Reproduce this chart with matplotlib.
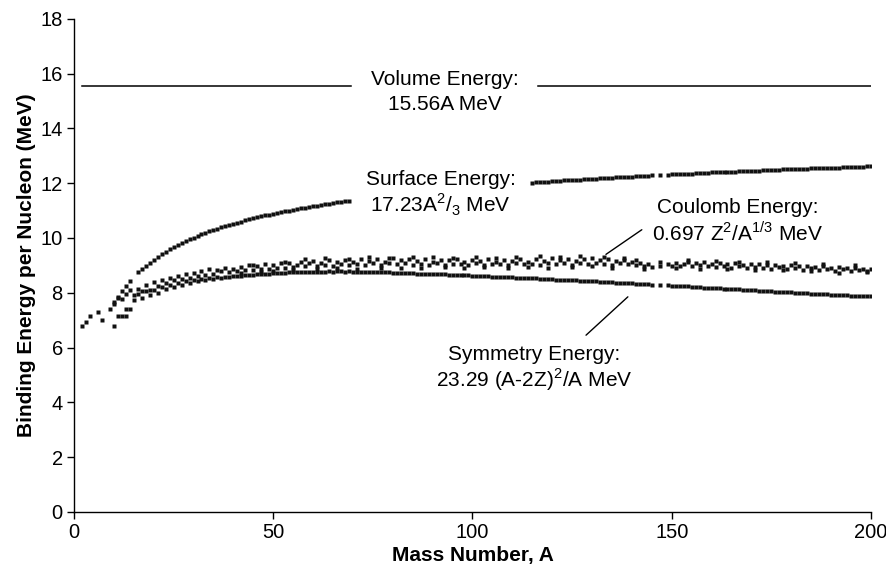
import matplotlib
matplotlib.use("Agg")
import matplotlib.pyplot as plt

plt.rcParams['font.family'] = ['Liberation Sans', 'DejaVu Sans']
plt.rcParams['mathtext.fontset'] = 'custom'
plt.rcParams['mathtext.rm'] = 'Liberation Sans'

# volume term: flat line, broken around its label
volume_a = [[2, 69.5], [116.5, 200]]
volume_y = 15.56

# light nuclei (scattered points at the left)
light_a = [2, 3, 4, 6, 7, 9, 10, 10, 11, 12, 13, 13, 14, 11, 12, 13, 14]
light_y = [6.78, 6.94, 7.14, 7.30, 7.00, 7.42, 6.78, 7.58, 7.14, 7.14,
           7.14, 7.42, 7.42, 7.84, 7.78, 7.96, 8.09]

# after surface term
surface_a = list(range(10, 15)) + list(range(16, 70)) + list(range(115, 146)) + [147] + list(range(149, 201))
surface_y = [
    7.66, 7.81, 8.05, 8.25, 8.43,                                        # 10-14
    8.74, 8.86, 8.99, 9.10,                                              # 16-19
    9.21, 9.31, 9.41, 9.50, 9.59, 9.67, 9.74, 9.82, 9.89, 9.95,          # 20-29
    10.01, 10.07, 10.13, 10.19, 10.24, 10.29, 10.34, 10.39, 10.43, 10.48,  # 30-39
    10.52, 10.56, 10.60, 10.64, 10.68, 10.72, 10.75, 10.79, 10.82, 10.85,  # 40-49
    10.88, 10.91, 10.94, 10.97, 11.00, 11.03, 11.06, 11.08, 11.11, 11.13,  # 50-59
    11.16, 11.18, 11.21, 11.23, 11.25, 11.27, 11.30, 11.32, 11.34, 11.36,  # 60-69
    12.02, 12.03, 12.04, 12.05, 12.06,                                   # 115-119
    12.07, 12.08, 12.09, 12.10, 12.10, 12.11, 12.12, 12.13, 12.14, 12.15,  # 120-129
    12.16, 12.17, 12.18, 12.18, 12.19, 12.20, 12.21, 12.22, 12.23, 12.23,  # 130-139
    12.24, 12.25, 12.26, 12.26, 12.27, 12.28, 12.29, 12.31,              # 140-145, 147, 149
    12.32, 12.32, 12.33, 12.34, 12.35, 12.35, 12.36, 12.37, 12.37, 12.38,  # 150-159
    12.39, 12.39, 12.40, 12.41, 12.41, 12.42, 12.42, 12.43, 12.44, 12.44,  # 160-169
    12.45, 12.46, 12.46, 12.47, 12.47, 12.48, 12.49, 12.49, 12.50, 12.50,  # 170-179
    12.51, 12.51, 12.52, 12.52, 12.53, 12.54, 12.54, 12.55, 12.55, 12.56,  # 180-189
    12.56, 12.57, 12.57, 12.58, 12.58, 12.59, 12.59, 12.60, 12.60, 12.61,  # 190-199
    12.61,                                                               # 200
]

band_a = list(range(15, 146)) + [147] + list(range(149, 201))

# after Coulomb term
coulomb_y = [
    7.90, 8.15, 8.05, 8.30, 8.10,                                        # 15-19
    8.40, 8.25, 8.45, 8.35, 8.55, 8.45, 8.60, 8.50, 8.70, 8.55,          # 20-29
    8.72, 8.62, 8.80, 8.66, 8.85, 8.70, 8.82, 8.78, 8.92, 8.75,          # 30-39
    8.88, 8.80, 8.95, 8.82, 9.00, 8.84, 8.98, 8.88, 9.05, 8.86,          # 40-49
    9.02, 8.90, 9.08, 8.92, 9.10, 8.95, 9.00, 9.12, 8.96, 9.08,          # 50-59
    9.15, 8.98, 9.10, 9.02, 9.18, 8.99, 9.12, 9.04, 9.20, 9.01,          # 60-69
    9.14, 9.06, 9.22, 9.00, 9.16, 9.08, 9.24, 9.02, 9.14, 9.10,          # 70-79
    9.26, 9.04, 9.18, 9.08, 9.22, 9.00, 9.16, 9.06, 9.24, 9.02,          # 80-89
    9.12, 9.08, 9.20, 9.00, 9.18, 9.04, 9.22, 9.06, 9.14, 9.02,          # 90-99
    9.20, 9.08, 9.16, 9.00, 9.22, 9.06, 9.12, 9.04, 9.20, 9.02,          # 100-109
    9.16, 9.08, 9.24, 9.04, 9.14, 9.06, 9.22, 9.02, 9.16, 9.08,          # 110-119
    9.26, 9.04, 9.18, 9.10, 9.24, 9.02, 9.16, 9.08, 9.22, 9.04,          # 120-129
    9.28, 9.10, 9.18, 9.06, 9.24, 9.02, 9.16, 9.10, 9.20, 9.04,          # 130-139
    9.12, 9.00, 9.08, 8.96, 9.04, 8.94, 8.98, 9.06,                      # 140-145, 147, 149
    8.96, 9.10, 8.98, 9.04, 9.12, 8.96, 9.08, 9.00, 9.14, 8.98,          # 150-159
    9.06, 8.94, 9.10, 8.98, 9.04, 8.92, 9.08, 8.96, 9.02, 8.90,          # 160-169
    9.04, 8.94, 9.06, 8.92, 9.00, 8.88, 9.02, 8.94, 8.98, 8.86,          # 170-179
    9.00, 8.90, 8.96, 8.84, 8.98, 8.90, 8.94, 8.82, 8.96, 8.88,          # 180-189
    8.92, 8.80, 8.94, 8.86, 8.90, 8.78, 8.92, 8.84, 8.88, 8.80,          # 190-199
    8.86,                                                                # 200
]

# other isobars in the Coulomb band (spread of the band)
coulomb2_a = [
    42, 45, 47, 50, 53, 55, 58, 61, 63, 66,
    69, 71, 74, 77, 79, 82, 85, 87, 90, 93,
    95, 98, 101, 103, 106, 109, 111, 114, 117, 119,
    122, 125, 127, 130, 133, 135, 138, 141, 143, 147,
    151, 154, 157, 161, 164, 167, 171, 174, 178, 181,
    185, 188, 192, 196, 199,
]
coulomb2_y = [
    8.72, 9.02, 8.76, 8.80, 9.14, 8.84, 9.22, 8.86, 9.26, 8.90,
    9.24, 8.88, 9.30, 8.92, 9.28, 8.90, 9.32, 8.92, 9.30, 8.94,
    9.26, 8.90, 9.32, 8.94, 9.28, 8.90, 9.30, 8.94, 9.34, 8.92,
    9.30, 8.94, 9.34, 8.96, 9.32, 8.92, 9.28, 9.18, 8.88, 9.12,
    8.90, 9.20, 8.88, 9.16, 8.86, 9.14, 8.84, 9.12, 8.82, 9.10,
    8.80, 9.04, 8.72, 9.00, 8.74,
]

# after symmetry term
symmetry_y = [
    7.75, 7.95, 7.80, 8.05, 7.90,                                        # 15-19
    8.10, 8.00, 8.20, 8.15, 8.30, 8.22, 8.35, 8.30, 8.42, 8.36,          # 20-29
    8.45, 8.42, 8.50, 8.47, 8.52, 8.50, 8.56, 8.54, 8.58, 8.57,          # 30-39
    8.60, 8.62, 8.62, 8.64, 8.65, 8.66, 8.68, 8.68, 8.70, 8.70,          # 40-49
    8.71, 8.72, 8.72, 8.73, 8.74, 8.74, 8.75, 8.75, 8.76, 8.76,          # 50-59
    8.76, 8.77, 8.77, 8.77, 8.78, 8.77, 8.78, 8.78, 8.77, 8.78,          # 60-69
    8.77, 8.77, 8.76, 8.77, 8.76, 8.76, 8.75, 8.76, 8.74, 8.75,          # 70-79
    8.73, 8.73, 8.72, 8.73, 8.71, 8.72, 8.70, 8.70, 8.69, 8.70,          # 80-89
    8.68, 8.68, 8.67, 8.67, 8.66, 8.66, 8.65, 8.64, 8.64, 8.63,          # 90-99
    8.62, 8.62, 8.61, 8.61, 8.60, 8.59, 8.59, 8.58, 8.57, 8.57,          # 100-109
    8.56, 8.55, 8.55, 8.54, 8.53, 8.53, 8.52, 8.51, 8.50, 8.50,          # 110-119
    8.49, 8.48, 8.48, 8.47, 8.46, 8.45, 8.45, 8.44, 8.43, 8.42,          # 120-129
    8.42, 8.41, 8.40, 8.39, 8.39, 8.38, 8.37, 8.36, 8.35, 8.35,          # 130-139
    8.34, 8.33, 8.32, 8.31, 8.31, 8.30, 8.28, 8.27,                      # 140-145, 147, 149
    8.26, 8.25, 8.24, 8.24, 8.23, 8.22, 8.21, 8.20, 8.19, 8.19,          # 150-159
    8.18, 8.17, 8.16, 8.15, 8.14, 8.14, 8.13, 8.12, 8.11, 8.10,          # 160-169
    8.09, 8.09, 8.08, 8.07, 8.06, 8.05, 8.04, 8.04, 8.03, 8.02,          # 170-179
    8.01, 8.00, 7.99, 7.99, 7.98, 7.97, 7.96, 7.95, 7.94, 7.94,          # 180-189
    7.93, 7.92, 7.91, 7.91, 7.90, 7.89, 7.89, 7.88, 7.88, 7.87,          # 190-199
    7.87,                                                                # 200
]

fig = plt.figure(figsize=(8.86, 5.70), dpi=100)
ax = fig.add_axes([0.0835, 0.102, 0.8995, 0.865])

for seg in volume_a:
    ax.plot(seg, [volume_y, volume_y], color='k', lw=1.1)

mk = dict(ls='none', marker='s', ms=2.3, color='#111111', mec='none')
ax.plot(light_a, light_y, **mk)
ax.plot(surface_a, surface_y, **mk)
ax.plot(band_a, coulomb_y, **mk)
ax.plot(coulomb2_a, coulomb2_y, **mk)
ax.plot(band_a, symmetry_y, **mk)

fs = 15
ax.text(93, 15.8, 'Volume Energy:', ha='center', va='center', fontsize=fs)
ax.text(93, 14.88, '15.56A MeV', ha='center', va='center', fontsize=fs)
ax.text(92, 12.15, 'Surface Energy:', ha='center', va='center', fontsize=fs)
ax.text(92, 11.2, r'17.23A$^\mathregular{2}$/$_\mathregular{3}$ MeV', ha='center', va='center', fontsize=fs)
ax.text(166.5, 11.1, 'Coulomb Energy:', ha='center', va='center', fontsize=fs)
ax.text(166.5, 10.2, r'0.697 Z$^\mathregular{2}$/A$^\mathregular{1/3}$ MeV', ha='center', va='center', fontsize=fs)
ax.text(115.5, 5.75, 'Symmetry Energy:', ha='center', va='center', fontsize=fs)
ax.text(115.5, 4.82, r'23.29 (A-2Z)$^\mathregular{2}$/A MeV', ha='center', va='center', fontsize=fs)

ax.annotate('', xy=(133.5, 9.4), xytext=(142.5, 10.3),
            arrowprops=dict(arrowstyle='-', color='k', lw=1, shrinkA=0, shrinkB=0))
ax.annotate('', xy=(139, 7.85), xytext=(128.5, 6.45),
            arrowprops=dict(arrowstyle='-', color='k', lw=1, shrinkA=0, shrinkB=0))

ax.set_xlim(0, 200)
ax.set_ylim(0, 18)
ax.set_xticks([0, 50, 100, 150, 200])
ax.set_yticks(range(0, 19, 2))
ax.tick_params(direction='out', length=5, width=1, labelsize=14.5, colors='k', pad=3)
for s in ['top', 'right']:
    ax.spines[s].set_visible(False)
ax.spines['left'].set_linewidth(1)
ax.spines['bottom'].set_linewidth(1)

ax.set_xlabel('Mass Number, A', fontsize=15, fontweight='bold', labelpad=3)
ax.set_ylabel('Binding Energy per Nucleon (MeV)', fontsize=15, fontweight='bold', labelpad=3)

fig.savefig('out.png', dpi=100)
